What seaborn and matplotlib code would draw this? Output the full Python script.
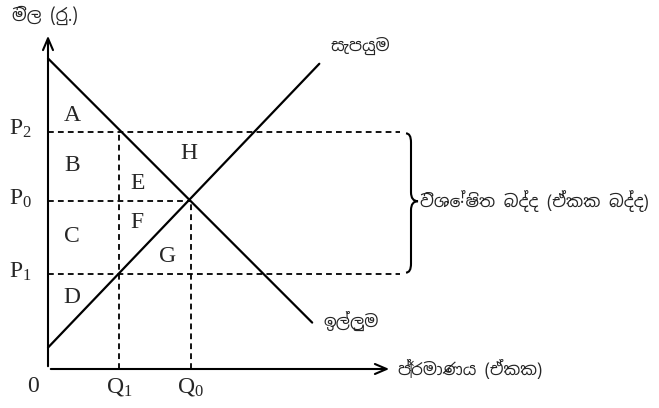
import matplotlib
matplotlib.use("Agg")
import matplotlib.pyplot as plt
import seaborn as sns
import pandas as pd
from matplotlib.path import Path
from matplotlib.patches import PathPatch

# ---- data (economic units) ----
q_demand = [0.0, 7.4]
p_demand = [8.7, 1.3]
q_supply = [0.0, 7.6]
p_supply = [0.6, 8.55]
Q1, Q0 = 2.0, 4.0
P1, P0, P2 = 2.65, 4.7, 6.65
price_labels = ["P$_2$", "P$_0$", "P$_1$"]
qty_labels = ["0", "Q$_1$", "Q$_0$"]
area_labels = ["A", "B", "C", "D", "E", "F", "G", "H"]
y_title = "මිල (රු.)"
x_title = "ප්\u200dරමාණය (ඒකක)"
supply_name = "සැපයුම"
demand_name = "ඉල්ලුම"
tax_name = "විශේෂිත බද්ද (ඒකක බද්ද)"

sns.set_theme(style="white")
SIN = ["Noto Sans Sinhala", "Noto Serif Sinhala", "Noto Sans", "DejaVu Sans"]
SERIF = ["Liberation Serif", "DejaVu Serif"]
plt.rcParams["font.family"] = SIN
plt.rcParams["mathtext.fontset"] = "custom"
plt.rcParams["mathtext.rm"] = "Liberation Serif"
plt.rcParams["mathtext.it"] = "Liberation Serif"

fig = plt.figure(figsize=(6.59, 4.08), dpi=100)
ax = fig.add_axes([0, 0, 1, 1])
U = 35.7
ax.set_xlim(-48 / U, (659 - 48) / U)
ax.set_ylim(-(408 - 369) / U, 369 / U)
ax.axis("off")

df_d = pd.DataFrame({"q": q_demand, "p": p_demand})
df_s = pd.DataFrame({"q": q_supply, "p": p_supply})
sns.lineplot(data=df_d, x="q", y="p", ax=ax, color="black", lw=1.6, sort=False, estimator=None)
sns.lineplot(data=df_s, x="q", y="p", ax=ax, color="black", lw=1.6, sort=False, estimator=None)

# axes with arrows
xend = (392 - 48) / U
ytop = (369 - 33) / U
ax.annotate("", xy=(xend, 0), xytext=(0, 0),
            arrowprops=dict(arrowstyle="->,head_length=0.7,head_width=0.3", lw=1.5, color="black"))
ax.annotate("", xy=(0, ytop), xytext=(0, 0),
            arrowprops=dict(arrowstyle="->,head_length=0.7,head_width=0.3", lw=1.5, color="black"))

# dashed guides
dash = dict(color="black", lw=1.3, linestyle=(0, (3.2, 2.3)))
xr = (400 - 48) / U
ax.plot([0, xr], [P2, P2], **dash)
ax.plot([0, xr], [P1, P1], **dash)
ax.plot([0, Q0], [P0, P0], **dash)
ax.plot([Q1, Q1], [0, P2], **dash)
ax.plot([Q0, Q0], [0, P0], **dash)

# brace
x0 = (406 - 48) / U
xm = (411 - 48) / U
xt = (418 - 48) / U
r = 0.25
top, bot, mid = P2 - 0.05, P1 + 0.05, P0
verts = [(x0, top), (xm, top), (xm, top - r),
         (xm, mid + r), (xm, mid), (xt, mid),
         (xm, mid), (xm, mid - r),
         (xm, bot + r), (xm, bot), (x0, bot)]
codes = [Path.MOVETO, Path.CURVE3, Path.CURVE3,
         Path.LINETO, Path.CURVE3, Path.CURVE3,
         Path.CURVE3, Path.CURVE3,
         Path.LINETO, Path.CURVE3, Path.CURVE3]
ax.add_patch(PathPatch(Path(verts, codes), fill=False, lw=1.5, color="black"))

# price / quantity labels
for lab, p in zip(price_labels, [P2, P0, P1]):
    ax.text(-0.77, p + 0.08, lab, fontsize=17, family=SERIF, ha="center", va="center")
for lab, q in zip(qty_labels, [-0.42, Q1, Q0]):
    ax.text(q, -0.5, lab, fontsize=17, family=SERIF, ha="center", va="center")

# area labels
area_pos = [(0.68, 7.1), (0.68, 5.7), (0.68, 3.7), (0.68, 2.0),
            (2.5, 5.2), (2.5, 4.1), (3.35, 3.15), (3.95, 6.05)]
for lab, (qx, py) in zip(area_labels, area_pos):
    ax.text(qx, py, lab, fontsize=17, family=SERIF, ha="center", va="center")

# Sinhala titles
ax.text(-36 / U, (369 - 15) / U, y_title, fontsize=12.5, ha="left", va="center")
ax.text((330 - 48) / U, (369 - 46) / U, supply_name, fontsize=12, ha="left", va="center")
ax.text((323 - 48) / U, (369 - 321) / U, demand_name, fontsize=12, ha="left", va="center")
ax.text((398 - 48) / U, 0, x_title, fontsize=12, ha="left", va="center")
ax.text((420 - 48) / U, P0, tax_name, fontsize=12.3, ha="left", va="center")

fig.savefig("out.png", dpi=100, facecolor="white")
